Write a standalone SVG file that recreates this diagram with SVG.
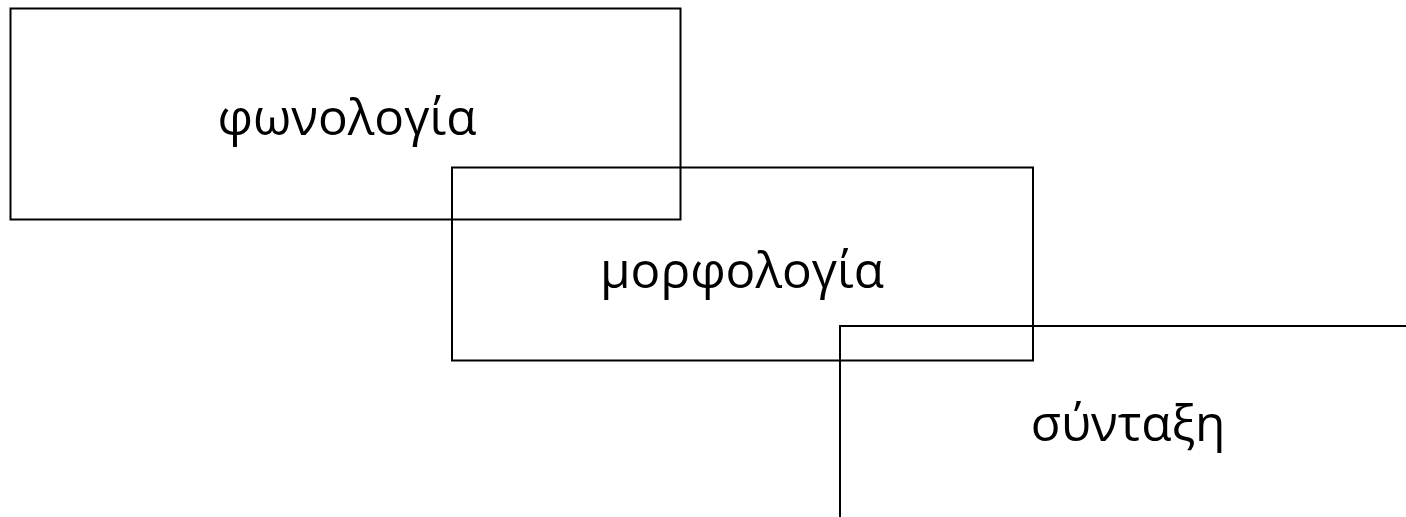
<svg xmlns="http://www.w3.org/2000/svg" width="1406" height="517" viewBox="0 0 1406 517">
<style>
.box{fill:none;stroke:#000;stroke-width:2}
.lbl{font-family:"Open Sans","DejaVu Sans",sans-serif;font-size:49.5px;fill:#000;text-anchor:middle}
</style>
<rect x="0" y="0" width="1406" height="517" fill="#fff"/>
<g id="node-fonologia">
<rect class="box" x="10.5" y="8.5" width="670" height="211"/>
<text class="lbl" x="347" y="135">φωνολογία</text>
</g>
<g id="node-morfologia">
<rect class="box" x="452" y="167.5" width="581" height="193"/>
<text class="lbl" x="742" y="288">μορφολογία</text>
</g>
<g id="node-syntaxi">
<rect class="box" x="840" y="326" width="600" height="250"/>
<text class="lbl" x="1128" y="441">σύνταξη</text>
</g>
<g id="connectors"></g>
</svg>
